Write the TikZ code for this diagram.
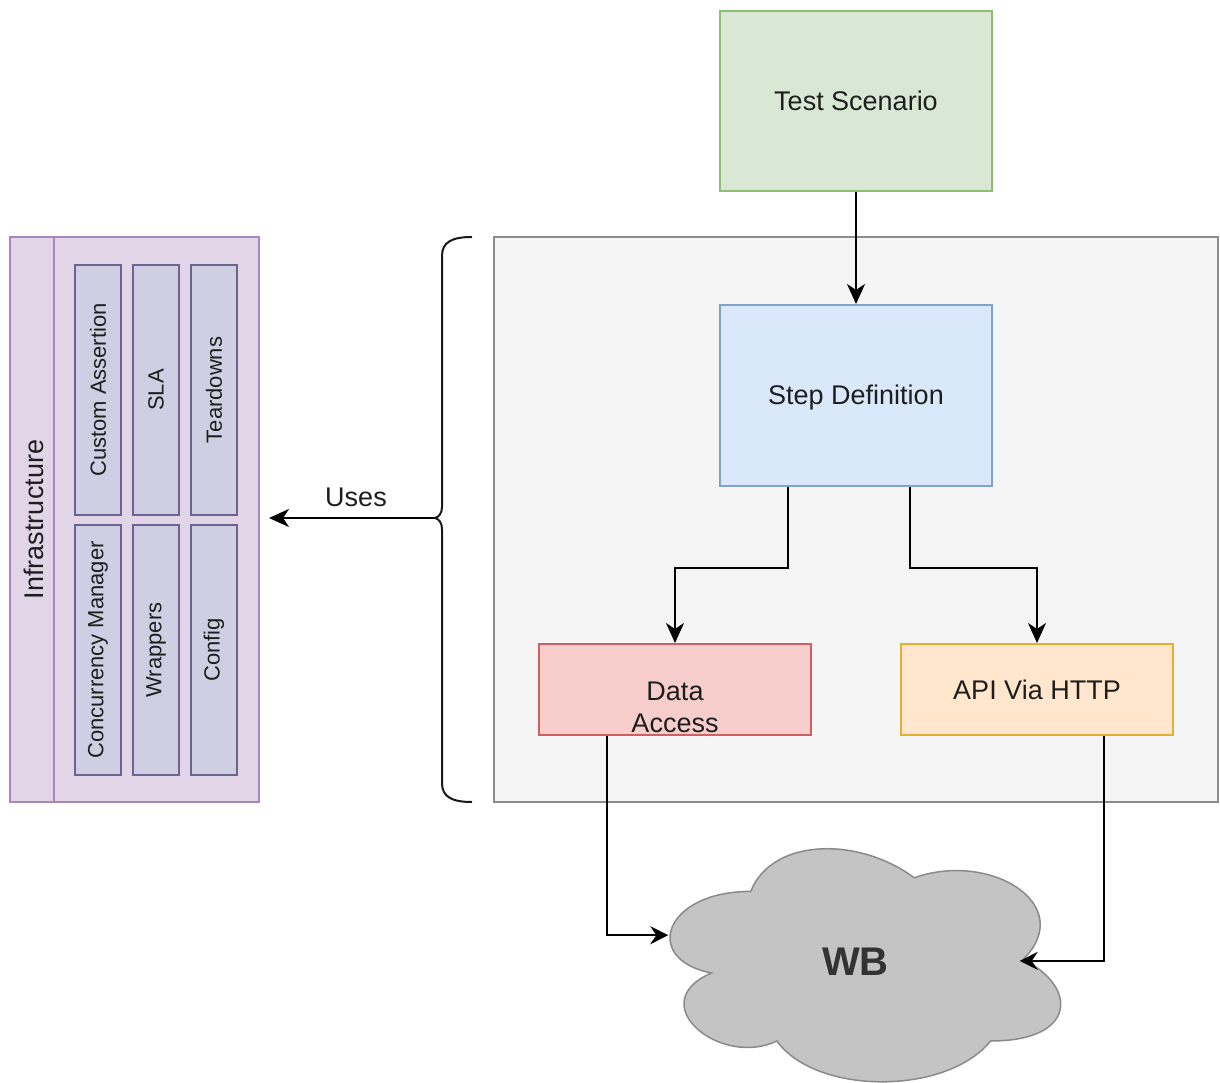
\documentclass[tikz,border=0pt]{standalone}
\usepackage{fontspec}
\setmainfont{Liberation Sans}
\usetikzlibrary{arrows.meta}
\definecolor{gfill}{HTML}{D9E8D4}
\definecolor{gline}{HTML}{8CC070}
\definecolor{cfill}{HTML}{F5F5F5}
\definecolor{cline}{HTML}{8C8C8C}
\definecolor{bfill}{HTML}{DAE8FC}
\definecolor{bline}{HTML}{7FA3D0}
\definecolor{rfill}{HTML}{F8CECC}
\definecolor{rline}{HTML}{D06060}
\definecolor{ofill}{HTML}{FFE6CC}
\definecolor{oline}{HTML}{E2B02C}
\definecolor{pfill}{HTML}{E1D5E7}
\definecolor{pline}{HTML}{A888BC}
\definecolor{ifill}{HTML}{D0CEE2}
\definecolor{iline}{HTML}{6A6590}
\definecolor{cloudfill}{HTML}{C4C4C4}
\definecolor{cloudline}{HTML}{8A8A8A}
\definecolor{txt}{HTML}{1E1E1E}
\begin{document}
\begin{tikzpicture}[x=1pt,y=-1pt,
  box/.style={draw, line width=2pt, rectangle, inner sep=0pt, text=txt,
    font=\fontsize{27}{32}\selectfont},
  lbl/.style={text=txt, inner sep=0pt, font=\fontsize{27}{32}\selectfont},
  ibox/.style={draw=iline, fill=ifill, line width=2pt, rectangle, inner sep=0pt,
    minimum width=46pt, minimum height=250pt, text=txt,
    font=\fontsize{22}{26}\selectfont},
  vtext/.style={rotate=90},
  conn/.style={draw=black, line width=2pt, -{Stealth[length=20pt,width=18pt,inset=6pt]}},
  thin/.style={draw=black, line width=1.6pt, -{Stealth[length=18pt,width=18pt,inset=6pt]}},
  bracestyle/.style={draw=black!90, line width=2pt}
]
\useasboundingbox (0,0) rectangle (1220,1083);
\fill[white] (0,0) rectangle (1220,1083);

% container
\node[box, draw=cline, fill=cfill, minimum width=724pt, minimum height=565pt] (cont) at (856,519.5) {};

% main boxes
\node[box, draw=gline, fill=gfill, minimum width=272pt, minimum height=180pt] (ts) at (856,101) {Test Scenario};
\node[box, draw=bline, fill=bfill, minimum width=272pt, minimum height=181pt] (sd) at (856,395.5) {};
\node[lbl] (sdlbl) at (856,398) {Step Definition};
\node[box, draw=rline, fill=rfill, minimum width=272pt, minimum height=91pt] (da) at (675,689.5) {};
\node[lbl, align=center] (dalbl) at (675,707) {Data\\Access};
\node[box, draw=oline, fill=ofill, minimum width=272pt, minimum height=91pt] (api) at (1037,689.5) {API Via HTTP};

% cloud
\begin{scope}[shift={(641.7,823.4)}, x=436pt, y=-272pt]
\draw[fill=cloudfill, draw=cloudline, line width=1.5pt]
  (0.25,0.25) .. controls (0.05,0.25) and (0,0.5) .. (0.16,0.55)
  .. controls (0,0.66) and (0.18,0.9) .. (0.31,0.8)
  .. controls (0.4,1) and (0.7,1) .. (0.8,0.8)
  .. controls (1,0.8) and (1,0.6) .. (0.875,0.5)
  .. controls (1,0.3) and (0.8,0.1) .. (0.625,0.2)
  .. controls (0.5,0.05) and (0.3,0.05) .. cycle;
\node[text=black!80, font=\fontsize{40}{48}\selectfont\bfseries, inner sep=0pt] (wb) at (0.49,0.51) {WB};
\coordinate (clleft) at (0.061,0.411);
\coordinate (clright) at (0.867,0.5055);
\end{scope}

% connectors
\draw[conn] (ts.south) -- (sd.north);
\draw[conn] ([xshift=-68pt]sd.south) -- ++(0,81) -| (da.north);
\draw[conn] ([xshift=54pt]sd.south) -- ++(0,81) -| (api.north);
\draw[thin] ([xshift=-68pt]da.south) |- (clleft);
\draw[thin] ([xshift=67pt]api.south) |- (clright);

% infrastructure
\node[box, draw=pline, fill=pfill, minimum width=249pt, minimum height=565pt] (infra) at (134.5,519.5) {};
\draw[pline, line width=2pt] ([xshift=45pt]infra.north west) -- ([xshift=45pt]infra.south west);
\node[lbl, vtext] (infratitle) at (34,519.5) {Infrastructure};
\node[ibox] (ca) at (98,390) {\rotatebox{90}{Custom Assertion}};
\node[ibox] (sla) at (156,390) {\rotatebox{90}{SLA}};
\node[ibox] (td) at (214,390) {\rotatebox{90}{Teardowns}};
\node[ibox] (cm) at (98,650) {\rotatebox{90}{Concurrency Manager}};
\node[ibox] (wr) at (156,650) {\rotatebox{90}{Wrappers}};
\node[ibox] (cf) at (214,650) {\rotatebox{90}{Config}};

% brace
\coordinate (bt) at (435,518);
\draw[bracestyle] (472,237) .. controls (452,237) and (442,242) .. (442,256)
  -- (442,507) .. controls (442,513) and (439,517) .. (bt)
  .. controls (439,519) and (442,523) .. (442,529)
  -- (442,783) .. controls (442,797) and (452,802) .. (472,802);
\draw[conn, shorten >=9pt] (bt) -- (bt -| infra.east);
\node[lbl] (uses) at (356,497) {Uses};
\end{tikzpicture}
\end{document}
